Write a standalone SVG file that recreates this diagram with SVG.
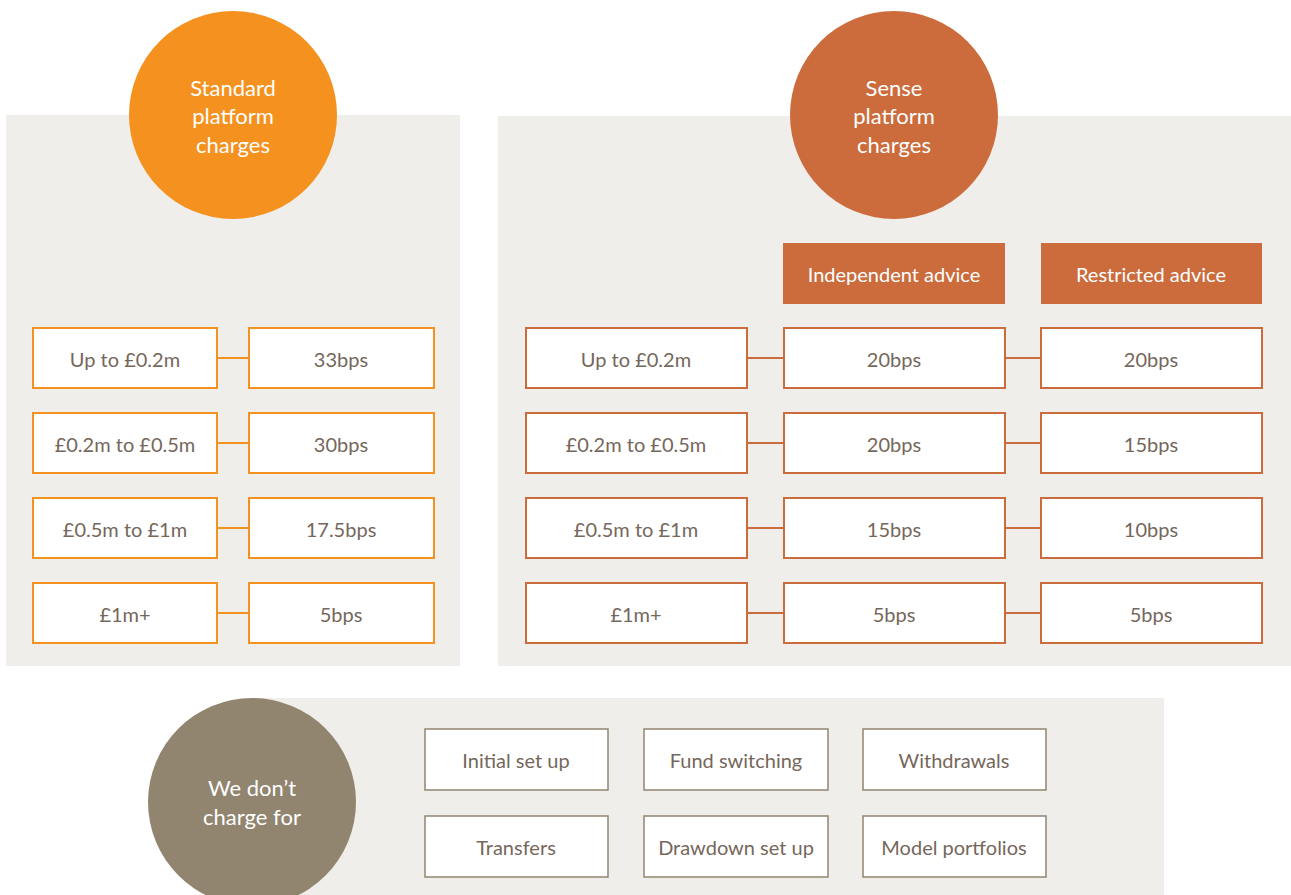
<svg xmlns="http://www.w3.org/2000/svg" width="1291" height="895" viewBox="0 0 1291 895">
<style>
.panel{fill:#F0EEEA}
.box{fill:#fff;stroke-width:2}
.o{stroke:#F5911E}
.r{stroke:#CC6C3D}
.t{stroke:#918570;stroke-width:1.5}
.lo{stroke:#F5911E;stroke-width:2}
.lr{stroke:#CC6C3D;stroke-width:2}
.txt{font-family:"Lato","Liberation Sans",sans-serif;font-size:20px;fill:#75675B;text-anchor:middle}
.ctxt{font-family:"Lato","Liberation Sans",sans-serif;font-size:22px;fill:#fff;text-anchor:middle}
.htxt{font-family:"Lato","Liberation Sans",sans-serif;font-size:20px;fill:#fff;text-anchor:middle}
</style>
<rect class="panel" x="6" y="115" width="454" height="551"/>
<rect class="panel" x="498" y="116" width="793" height="550"/>
<rect class="panel" x="252" y="698" width="912" height="197"/>

<g id="connectors">
<line class="lo" x1="217" y1="358" x2="249" y2="358"/>
<line class="lo" x1="217" y1="443" x2="249" y2="443"/>
<line class="lo" x1="217" y1="528" x2="249" y2="528"/>
<line class="lo" x1="217" y1="613" x2="249" y2="613"/>
<line class="lr" x1="747" y1="358" x2="784" y2="358"/>
<line class="lr" x1="747" y1="443" x2="784" y2="443"/>
<line class="lr" x1="747" y1="528" x2="784" y2="528"/>
<line class="lr" x1="747" y1="613" x2="784" y2="613"/>
<line class="lr" x1="1005" y1="358" x2="1041" y2="358"/>
<line class="lr" x1="1005" y1="443" x2="1041" y2="443"/>
<line class="lr" x1="1005" y1="528" x2="1041" y2="528"/>
<line class="lr" x1="1005" y1="613" x2="1041" y2="613"/>
</g>

<g id="standard-circle">
<circle cx="233" cy="115" r="104" fill="#F5911E"/>
<text class="ctxt" x="233" y="96">Standard</text>
<text class="ctxt" x="233" y="124">platform</text>
<text class="ctxt" x="233" y="153">charges</text>
</g>
<g id="sense-circle">
<circle cx="894" cy="115" r="104" fill="#CC6C3D"/>
<text class="ctxt" x="894" y="96">Sense</text>
<text class="ctxt" x="894" y="124">platform</text>
<text class="ctxt" x="894" y="153">charges</text>
</g>
<g id="nocharge-circle">
<circle cx="252" cy="802" r="104" fill="#918570"/>
<text class="ctxt" x="252" y="796">We don’t</text>
<text class="ctxt" x="252" y="825">charge for</text>
</g>

<g id="hdr-independent"><rect x="783" y="243" width="222" height="61" fill="#CC6C3D"/><text class="htxt" x="894" y="282">Independent advice</text></g>
<g id="hdr-restricted"><rect x="1041" y="243" width="221" height="61" fill="#CC6C3D"/><text class="htxt" x="1151" y="282">Restricted advice</text></g>

<g id="s-band1"><rect class="box o" x="33" y="328" width="184" height="60"/><text class="txt" x="125" y="367">Up to £0.2m</text></g>
<g id="s-val1"><rect class="box o" x="249" y="328" width="185" height="60"/><text class="txt" x="341" y="367">33bps</text></g>
<g id="s-band2"><rect class="box o" x="33" y="413" width="184" height="60"/><text class="txt" x="125" y="452">£0.2m to £0.5m</text></g>
<g id="s-val2"><rect class="box o" x="249" y="413" width="185" height="60"/><text class="txt" x="341" y="452">30bps</text></g>
<g id="s-band3"><rect class="box o" x="33" y="498" width="184" height="60"/><text class="txt" x="125" y="537">£0.5m to £1m</text></g>
<g id="s-val3"><rect class="box o" x="249" y="498" width="185" height="60"/><text class="txt" x="341" y="537">17.5bps</text></g>
<g id="s-band4"><rect class="box o" x="33" y="583" width="184" height="60"/><text class="txt" x="125" y="622">£1m+</text></g>
<g id="s-val4"><rect class="box o" x="249" y="583" width="185" height="60"/><text class="txt" x="341" y="622">5bps</text></g>

<g id="r-band1"><rect class="box r" x="526" y="328" width="221" height="60"/><text class="txt" x="636" y="367">Up to £0.2m</text></g>
<g id="r-ind1"><rect class="box r" x="784" y="328" width="221" height="60"/><text class="txt" x="894" y="367">20bps</text></g>
<g id="r-res1"><rect class="box r" x="1041" y="328" width="221" height="60"/><text class="txt" x="1151" y="367">20bps</text></g>
<g id="r-band2"><rect class="box r" x="526" y="413" width="221" height="60"/><text class="txt" x="636" y="452">£0.2m to £0.5m</text></g>
<g id="r-ind2"><rect class="box r" x="784" y="413" width="221" height="60"/><text class="txt" x="894" y="452">20bps</text></g>
<g id="r-res2"><rect class="box r" x="1041" y="413" width="221" height="60"/><text class="txt" x="1151" y="452">15bps</text></g>
<g id="r-band3"><rect class="box r" x="526" y="498" width="221" height="60"/><text class="txt" x="636" y="537">£0.5m to £1m</text></g>
<g id="r-ind3"><rect class="box r" x="784" y="498" width="221" height="60"/><text class="txt" x="894" y="537">15bps</text></g>
<g id="r-res3"><rect class="box r" x="1041" y="498" width="221" height="60"/><text class="txt" x="1151" y="537">10bps</text></g>
<g id="r-band4"><rect class="box r" x="526" y="583" width="221" height="60"/><text class="txt" x="636" y="622">£1m+</text></g>
<g id="r-ind4"><rect class="box r" x="784" y="583" width="221" height="60"/><text class="txt" x="894" y="622">5bps</text></g>
<g id="r-res4"><rect class="box r" x="1041" y="583" width="221" height="60"/><text class="txt" x="1151" y="622">5bps</text></g>

<g id="nc1"><rect class="box t" x="425" y="729" width="183" height="61"/><text class="txt" x="516" y="768">Initial set up</text></g>
<g id="nc2"><rect class="box t" x="644" y="729" width="184" height="61"/><text class="txt" x="736" y="768">Fund switching</text></g>
<g id="nc3"><rect class="box t" x="863" y="729" width="183" height="61"/><text class="txt" x="954" y="768">Withdrawals</text></g>
<g id="nc4"><rect class="box t" x="425" y="816" width="183" height="61"/><text class="txt" x="516" y="855">Transfers</text></g>
<g id="nc5"><rect class="box t" x="644" y="816" width="184" height="61"/><text class="txt" x="736" y="855">Drawdown set up</text></g>
<g id="nc6"><rect class="box t" x="863" y="816" width="183" height="61"/><text class="txt" x="954" y="855">Model portfolios</text></g>
</svg>
